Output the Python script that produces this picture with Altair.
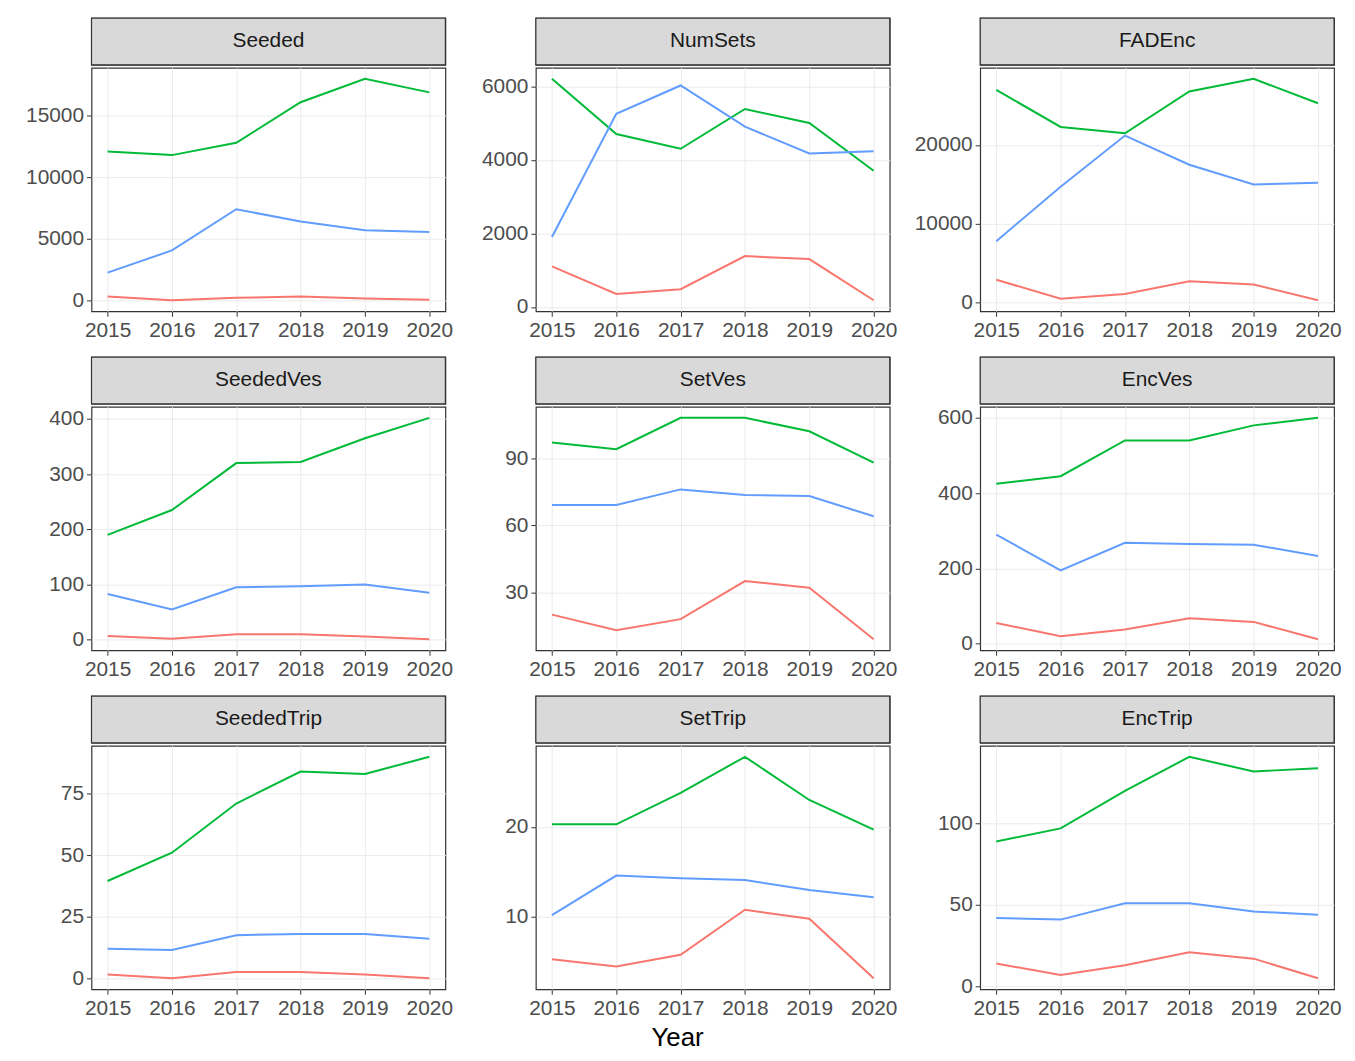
import altair as alt
import pandas as pd

years = [2015, 2016, 2017, 2018, 2019, 2020]
panels = ["Seeded", "NumSets", "FADEnc", "SeededVes", "SetVes", "EncVes",
          "SeededTrip", "SetTrip", "EncTrip"]

ticks = {
    "Seeded": [0, 5000, 10000, 15000],
    "NumSets": [0, 2000, 4000, 6000],
    "FADEnc": [0, 10000, 20000],
    "SeededVes": [0, 100, 200, 300, 400],
    "SetVes": [30, 60, 90],
    "EncVes": [0, 200, 400, 600],
    "SeededTrip": [0, 25, 50, 75],
    "SetTrip": [10, 20],
    "EncTrip": [0, 50, 100],
}

green = {
    "Seeded": [12100, 11800, 12800, 16100, 18000, 16900],
    "NumSets": [6200, 4700, 4300, 5380, 5000, 3700],
    "FADEnc": [27000, 22300, 21500, 26800, 28400, 25300],
    "SeededVes": [190, 235, 320, 322, 365, 402],
    "SetVes": [97, 94, 108, 108, 102, 88],
    "EncVes": [425, 445, 540, 540, 580, 600],
    "SeededTrip": [39.5, 51, 71, 84, 83, 90],
    "SetTrip": [20.3, 20.3, 23.8, 27.8, 23, 19.7],
    "EncTrip": [89, 97, 120, 141, 132, 134],
}
blue = {
    "Seeded": [2250, 4050, 7400, 6400, 5700, 5550],
    "NumSets": [1900, 5250, 6020, 4900, 4170, 4230],
    "FADEnc": [7800, 14700, 21200, 17500, 15000, 15200],
    "SeededVes": [83, 55, 95, 97, 100, 85],
    "SetVes": [69, 69, 76, 73.5, 73, 64],
    "EncVes": [290, 195, 268, 265, 263, 233],
    "SeededTrip": [12, 11.5, 17.5, 18, 18, 16],
    "SetTrip": [10.2, 14.6, 14.3, 14.1, 13, 12.2],
    "EncTrip": [42, 41, 51, 51, 46, 44],
}
red = {
    "Seeded": [300, 0, 200, 300, 150, 50],
    "NumSets": [1100, 350, 480, 1380, 1300, 180],
    "FADEnc": [2900, 500, 1100, 2700, 2300, 300],
    "SeededVes": [7, 2, 10, 10, 6, 1],
    "SetVes": [20, 13, 18, 35, 32, 9],
    "EncVes": [55, 20, 38, 68, 58, 12],
    "SeededTrip": [1.5, 0, 2.5, 2.5, 1.5, 0],
    "SetTrip": [5.3, 4.5, 5.8, 10.8, 9.8, 3.2],
    "EncTrip": [14, 7, 13, 21, 17, 5],
}

rows = []
for p in panels:
    for grp, src in [("a", red), ("b", green), ("c", blue)]:
        for y, v in zip(years, src[p]):
            rows.append({"panel": p, "year": y, "group": grp, "value": v})
df = pd.DataFrame(rows)

W, H, HH = 356, 245, 47


def panel(name):
    hdr_df = pd.DataFrame({"t": [name]})
    box = alt.Chart(hdr_df).mark_rect(fill="#D9D9D9", stroke="#333333", strokeWidth=1.2).encode(
        x=alt.value(0), x2=alt.value(W), y=alt.value(0), y2=alt.value(HH))
    txt = alt.Chart(hdr_df).mark_text(fontSize=21, font="Liberation Sans", color="#1A1A1A").encode(
        x=alt.value(W / 2), y=alt.value(HH / 2), text="t:N")
    header = (box + txt).properties(width=W, height=HH)

    d = df[df.panel == name]
    lo, hi = d.value.min(), d.value.max()
    pad = (hi - lo) * 0.05
    plot = alt.Chart(d).mark_line(strokeWidth=2).encode(
        x=alt.X("year:Q", title=None,
                scale=alt.Scale(domain=[2014.75, 2020.25], nice=False, zero=False),
                axis=alt.Axis(values=years, format="d")),
        y=alt.Y("value:Q", title=None,
                scale=alt.Scale(domain=[lo - pad, hi + pad], nice=False, zero=False),
                axis=alt.Axis(values=ticks[name], format="d", minExtent=78)),
        color=alt.Color("group:N", legend=None,
                        scale=alt.Scale(domain=["a", "b", "c"],
                                        range=["#F8766D", "#00BA38", "#619CFF"])),
        detail="group:N",
    ).properties(width=W, height=H)
    return alt.vconcat(header, plot, spacing=0)


grid = alt.vconcat(*[
    alt.hconcat(*[panel(p) for p in panels[i:i + 3]], spacing=4)
    for i in range(0, 9, 3)
], spacing=14)

chart = grid.properties(
    title=alt.TitleParams("Year", orient="bottom", fontSize=26, font="Liberation Sans",
                          fontWeight="normal", color="#000000", anchor="middle", offset=6)
).configure_view(stroke="#333333", strokeWidth=1.2).configure_axis(
    labelFont="Liberation Sans", labelFontSize=21, labelColor="#4D4D4D",
    gridColor="#EBEBEB", domain=False, tickColor="#333333", tickSize=5,
    labelPadding=3,
)

chart.save("out.html", embed_options={"renderer": "svg", "actions": False})
